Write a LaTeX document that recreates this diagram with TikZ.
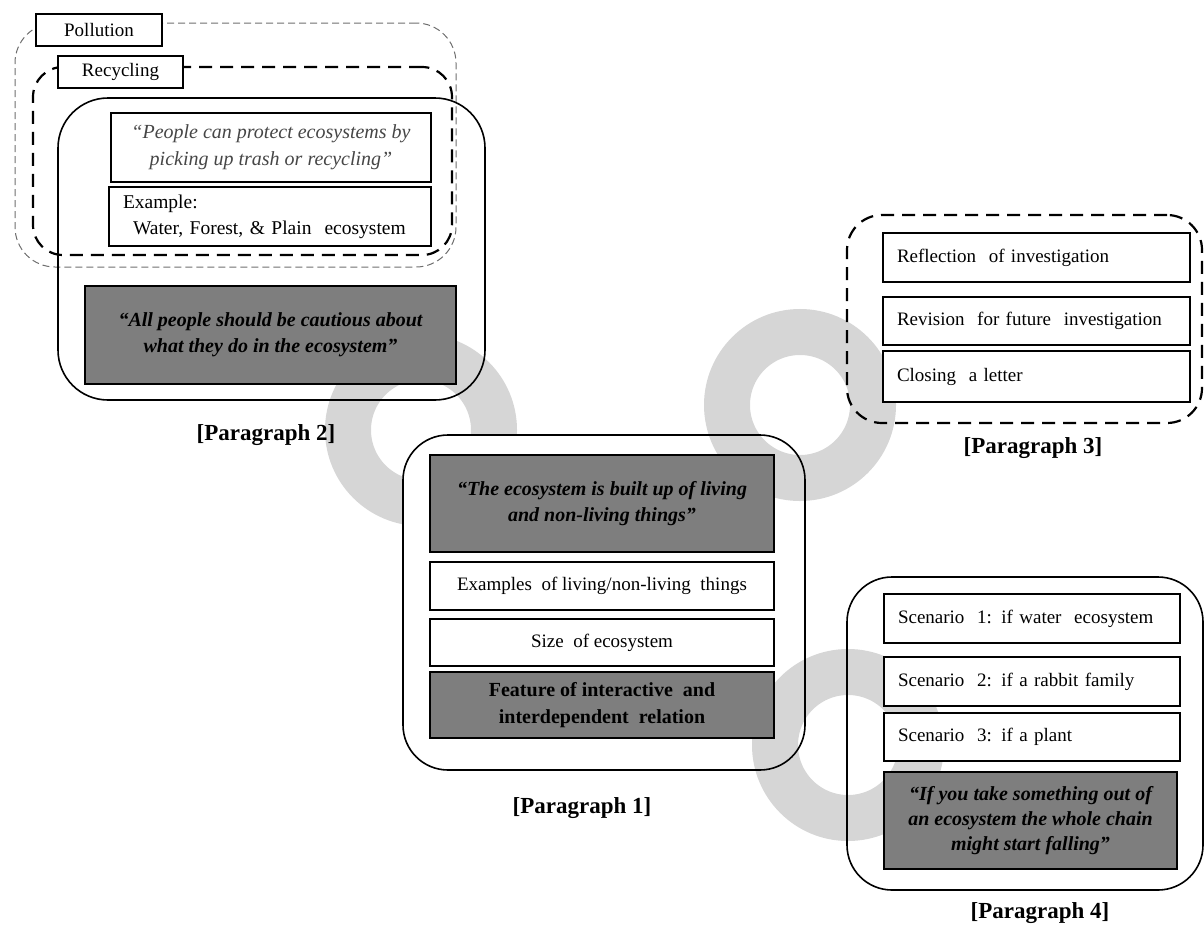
\documentclass[tikz,border=0pt]{standalone}
\usepackage{fontspec}
\setmainfont{Liberation Serif}
\definecolor{ringgray}{RGB}{214,214,214}
\definecolor{darkfill}{RGB}{126,126,126}
\definecolor{quotegray}{RGB}{70,70,70}
\definecolor{thingray}{RGB}{110,110,110}
\tikzset{
  box/.style={draw, line width=1.5pt, fill=white, inner sep=0pt, align=center,
              font=\fontsize{19}{26}\selectfont},
  leftbox/.style={box, align=left, inner xsep=14pt},
  darkbox/.style={box, fill=darkfill, font=\fontsize{20}{26}\selectfont\bfseries\itshape},
  frame/.style={draw, line width=1.6pt, rounded corners=45pt},
  thickdash/.style={draw, line width=2.2pt, dash pattern=on 13pt off 8pt},
  thindash/.style={draw=thingray, line width=1pt, dash pattern=on 7pt off 4pt},
  ring/.style={draw=ringgray, line width=46pt},
  plabel/.style={font=\fontsize{23}{28}\selectfont\bfseries},
}
\begin{document}
\begin{tikzpicture}[x=1pt, y=-1pt]
\useasboundingbox (0,0) rectangle (1204,926);
% ring behind paragraph 1
\draw[ring] (421,430) circle[radius=73];
% white ground of paragraph 1
\node[rounded corners=45pt, fill=white, minimum width=402pt, minimum height=335pt] (p1bg) at (604,602.5) {};
% rings drawn over that ground
\draw[ring] (800,405) circle[radius=73];
\draw[ring] (848,745) circle[radius=73];

% ---------- Paragraph 2 ----------
\node[thindash, rounded corners=40pt, minimum width=441pt, minimum height=244pt] (pollframe) at (235.5,145) {};
\node[thickdash, rounded corners=30pt, minimum width=419pt, minimum height=188pt] (recframe) at (242.5,161) {};
\node[frame, rounded corners=50pt, minimum width=427pt, minimum height=302pt] (p2frame) at (271.5,249) {};
\node[box, minimum width=126pt, minimum height=32pt] (poll) at (99,30) {Pollution};
\node[box, minimum width=125pt, minimum height=32pt] (rec) at (120.5,72) {Recycling};
\node[box, minimum width=320pt, minimum height=69pt, text=quotegray, font=\fontsize{20}{27}\selectfont\itshape] (q2) at (271,147.5)
  {“People can protect ecosystems by\\picking up trash or recycling”};
\node[leftbox, text width=294pt, minimum height=59pt, font=\fontsize{19.5}{26}\selectfont] (ex2) at (270,216.5)
  {Example:\\\hspace*{10pt}Water, Forest, \& Plain\ \ ecosystem};
\node[darkbox, minimum width=371pt, minimum height=98pt] (d2) at (270.5,335)
  {“All people should be cautious about\\what they do in the ecosystem”};
\node[plabel] (l2) at (266,435) {[Paragraph 2]};

% ---------- Paragraph 1 ----------
\node[frame, minimum width=402pt, minimum height=335pt] (p1frame) at (604,602.5) {};
\node[darkbox, minimum width=344pt, minimum height=97pt] (d1) at (602,503.5)
  {“The ecosystem is built up of living\\and non-living things”};
\node[box, minimum width=344pt, minimum height=48pt] (ex1) at (602,586) {Examples\ \ of living/non-living\ \ things};
\node[box, minimum width=344pt, minimum height=47pt] (size1) at (602,642.5) {Size\ \ of ecosystem};
\node[box, fill=darkfill, minimum width=344pt, minimum height=66pt, font=\fontsize{20}{27}\selectfont\bfseries] (feat1) at (602,705)
  {Feature of interactive\ \ and\\interdependent\ \ relation};
\node[plabel] (l1) at (582,808) {[Paragraph 1]};

% ---------- Paragraph 3 ----------
\node[thickdash, rounded corners=35pt, minimum width=355pt, minimum height=208pt] (p3frame) at (1024.5,319) {};
\node[leftbox, text width=279pt, minimum height=49pt] (r3) at (1036.5,257.5) {Reflection\ \ of investigation};
\node[leftbox, text width=279pt, minimum height=48pt] (v3) at (1036.5,321) {Revision\ \ for future\ \ investigation};
\node[leftbox, text width=279pt, minimum height=51pt] (c3) at (1036.5,376.5) {Closing\ \ a letter};
\node[plabel] (l3) at (1033,448) {[Paragraph 3]};

% ---------- Paragraph 4 ----------
\node[frame, minimum width=356pt, minimum height=313pt] (p4frame) at (1025,733.5) {};
\node[leftbox, text width=268pt, minimum height=49pt] (s1) at (1032,618.5) {Scenario\ \ 1: if water\ \ ecosystem};
\node[leftbox, text width=268pt, minimum height=49pt] (s2) at (1032,681.5) {Scenario\ \ 2: if a rabbit family};
\node[leftbox, text width=268pt, minimum height=48pt] (s3) at (1032,737) {Scenario\ \ 3: if a plant};
\node[darkbox, minimum width=293pt, minimum height=97pt, font=\fontsize{20}{25}\selectfont\bfseries\itshape] (d4) at (1030.5,820.5)
  {“If you take something out of\\an ecosystem the whole chain\\might start falling”};
\node[plabel] (l4) at (1040,913) {[Paragraph 4]};
\end{tikzpicture}
\end{document}
